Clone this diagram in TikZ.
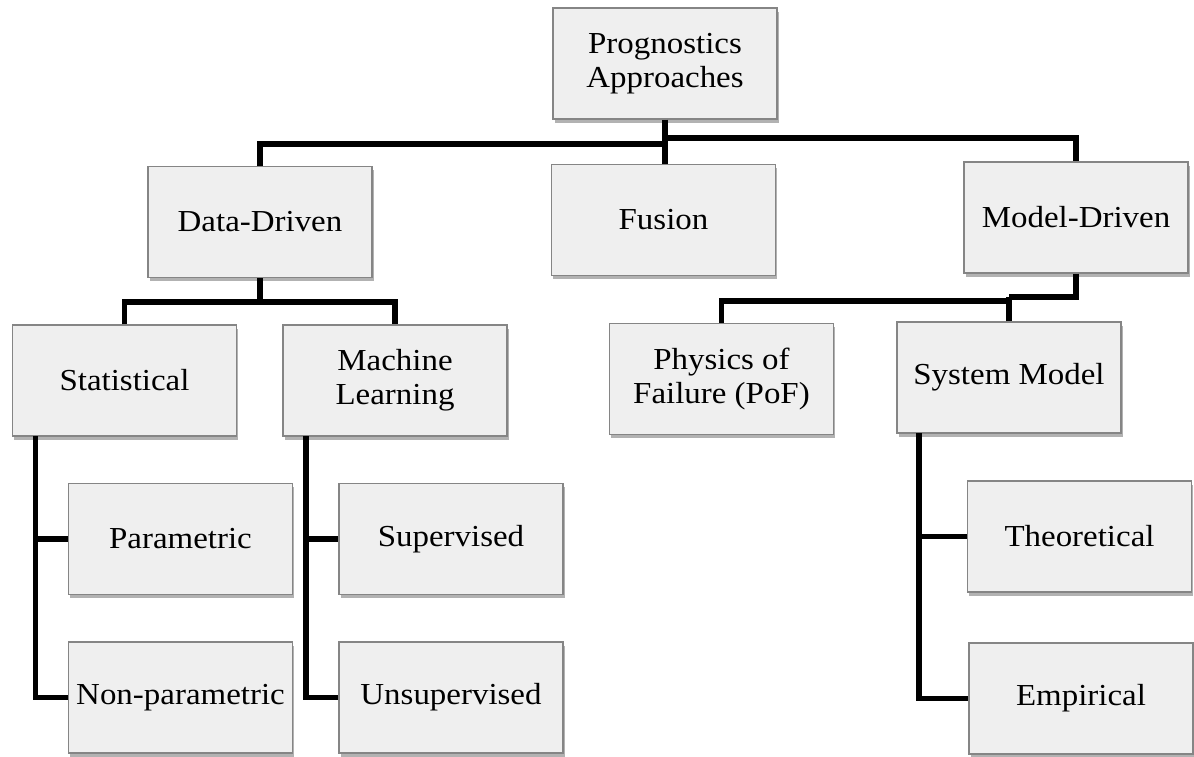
\documentclass[tikz,border=0pt]{standalone}
\usepackage{fontspec}
\setmainfont{Liberation Serif}[FakeStretch=1.08]
\usetikzlibrary{shadows}
\definecolor{boxfill}{HTML}{EFEFEF}
\definecolor{boxline}{HTML}{858585}
\begin{document}
\begin{tikzpicture}[x=1pt,y=-1pt,
  box/.style={draw=boxline, line width=1.4pt, fill=boxfill, rectangle,
    minimum width=224pt, minimum height=111pt, inner sep=0pt, align=center,
    font=\fontsize{30.5}{34}\selectfont,
    drop shadow={shadow xshift=1.5pt, shadow yshift=-3.5pt, opacity=0.5, fill=black!60}},
  conn/.style={line width=5.2pt, line join=miter, black}]
\useasboundingbox[fill=white] (0,0) rectangle (1194,756);
% nodes
\node[box] (prog) at (665,63.5) {Prognostics\\Approaches};
\node[box] (data) at (260,222) {Data-Driven};
\node[box] (fusion) at (663.5,220) {Fusion};
\node[box] (model) at (1076,217.5) {Model-Driven};
\node[box] (stat) at (124.5,380.5) {Statistical};
\node[box] (ml) at (395,380.5) {Machine\\Learning};
\node[box] (pof) at (721.5,379) {Physics of\\Failure (PoF)};
\node[box] (sys) at (1009,377.5) {System Model};
\node[box] (param) at (180.5,539) {Parametric};
\node[box] (nonparam) at (180.5,697.5) {Non-parametric};
\node[box] (sup) at (451,539) {Supervised};
\node[box] (unsup) at (451,697.5) {Unsupervised};
\node[box] (theo) at (1079.5,536.5) {Theoretical};
\node[box] (emp) at (1081,698.5) {Empirical};
% connectors
\coordinate (pl) at (665,144);
\coordinate (pr) at (665,138);
\draw[conn] (prog.south) -- (prog.south |- fusion.north);
\draw[conn] (pl) -| (data.north);
\draw[conn] (pr) -| (model.north);
\coordinate (dd) at (260,302);
\draw[conn] (data.south) -- (dd);
\draw[conn] (stat.north) |- (dd) -| (ml.north);
\coordinate (md) at (1076,297);
\coordinate (mj) at (1009,301);
\draw[conn] (model.south) -- (md) -- (md -| mj);
\draw[conn] (mj) -| (pof.north);
\draw[conn] (sys.north) -- (sys.north |- md);
\coordinate (st) at (35.6,436);
\coordinate (mt) at (306,436);
\coordinate (sy) at (919,433);
\draw[conn] (st) |- (nonparam.west);
\draw[conn] (st |- param.west) -- (param.west);
\draw[conn] (mt) |- (unsup.west);
\draw[conn] (mt |- sup.west) -- (sup.west);
\draw[conn] (sy) |- (emp.west);
\draw[conn] (sy |- theo.west) -- (theo.west);
\end{tikzpicture}
\end{document}
